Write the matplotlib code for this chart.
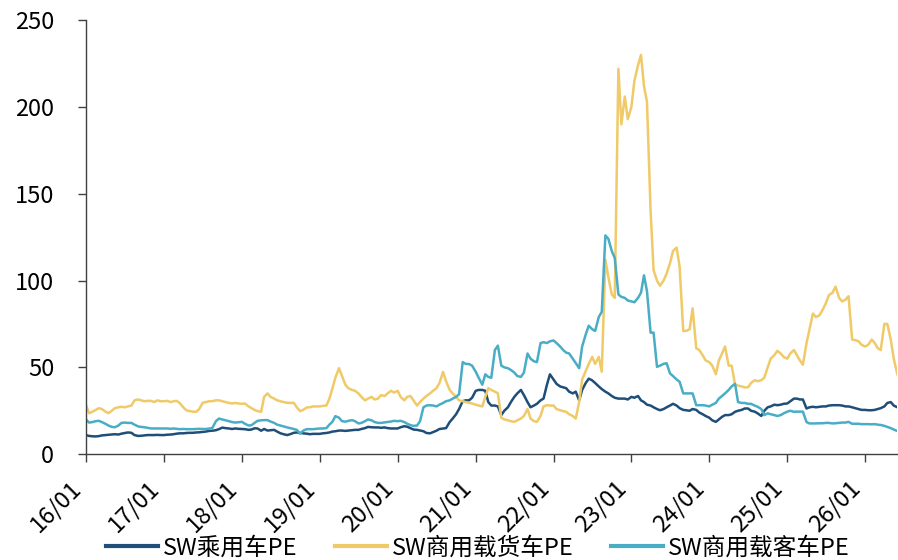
import numpy as np
import pandas as pd
import matplotlib
matplotlib.use("Agg")
import matplotlib.pyplot as plt
import matplotlib.dates as mdates

plt.rcParams['font.family'] = ['Noto Sans CJK SC', 'DejaVu Sans']

# semi-monthly readings (1st and 15th), 2016-01-01 .. 2026-06-01
dates = pd.date_range("2016-01-01", periods=251, freq="SMS")

car_pe = (
    [11, 10.5, 10.3, 10.2, 10.4, 10.8, 11, 11.2, 11.3, 11.5, 11.3, 11.8, 12.2, 12.5, 12.3, 11, 10.5, 10.6, 10.8, 11, 11, 11, 11.1, 11]
    + [11, 11.2, 11.3, 11.5, 11.8, 12, 12, 12.2, 12.3, 12.3, 12.5, 12.6, 12.8, 13, 13.4, 13.5, 13.8, 14.4, 15.3, 15, 14.8, 14.5, 14.8, 14.6]
    + [14.5, 14.4, 14, 14.2, 14.9, 14.8, 13.5, 14.5, 13.6, 13.8, 14, 13, 12, 11.5, 11, 11.5, 12.3, 12.5, 12.2, 12, 11.8, 11.5, 11.7, 11.7]
    + [11.7, 12, 12.2, 12.5, 13, 13.2, 13.6, 13.6, 13.4, 13.6, 13.8, 14, 14, 14.5, 15, 15.7, 15.5, 15.4, 15.4, 15.2, 15.4, 15, 14.8, 14.8]
    + [14.8, 15.5, 16.1, 15.8, 15, 14.2, 14, 13.6, 13.2, 12.2, 12, 12.7, 13.5, 14.5, 14.8, 15, 18.5, 20.5, 23, 26, 30.5, 31, 31, 32.5]
    + [36.5, 37, 37, 36.5, 30, 28, 28, 27.5, 22.5, 25, 27, 30, 33, 35, 37, 34, 30, 27, 28, 29, 31, 32, 40, 46]
    + [43, 40.5, 39, 38.5, 38, 36, 35, 36, 31, 37, 41, 43.5, 42.5, 41, 39, 37.5, 36, 35, 33.5, 32.5, 32, 32, 32, 31.5]
    + [33, 32.5, 33.5, 31, 30, 28.5, 28, 27, 26, 25.3, 26, 27, 28, 29, 28, 26.5, 25.5, 25.3, 25, 26, 25.5, 24, 23, 22]
    + [21, 19.5, 18.6, 20, 21.5, 22.5, 22.5, 23, 24.4, 25, 25.5, 26.3, 26.3, 25, 24.5, 23.5, 22, 25, 27, 27.5, 28.5, 28.2, 28.5, 29]
    + [29.2, 30.5, 32, 32, 31.5, 31.5, 26.3, 27, 27.3, 27, 27.3, 27.5, 27.5, 28, 28.2, 28.2, 28.2, 28, 27.5, 27.5, 27, 26.5, 26, 25.5]
    + [25.5, 25.3, 25.3, 25.5, 26, 26.5, 27.5, 29.5, 30, 28, 27]
)

truck_pe = (
    [28.2, 23.6, 24.5, 25.5, 26.5, 26, 24.5, 23.6, 25, 26.5, 27, 27.3, 27, 27.5, 28, 31, 31.5, 31, 30.5, 30.7, 30.7, 30, 31, 30.5]
    + [30.5, 30.7, 30, 30.5, 30.7, 29.5, 27, 25.3, 24.8, 24.5, 24.4, 26, 29.6, 30, 30.5, 30.5, 31, 31, 30.5, 30, 29.5, 29.2, 29.5, 29.2]
    + [29, 29.2, 27.5, 26.5, 25.5, 24.8, 24.4, 33, 35, 33, 32, 31, 30.5, 30, 29.6, 29.5, 29.6, 27, 24.8, 25.5, 26.9, 27, 27.5, 27.5]
    + [27.5, 27.8, 28, 32, 37.8, 44, 49.5, 45, 40, 38, 37, 36.5, 35, 33, 31, 32, 33, 31.5, 32, 34, 33.5, 35, 36.5, 35.5]
    + [36.5, 33, 31, 33, 33.5, 31, 28, 30, 32, 33.5, 35, 36.5, 38, 41, 47.4, 42, 37, 35, 33, 31, 30.5, 30, 29.5, 29.2]
    + [28.5, 28, 27.5, 33, 38, 37, 36, 35, 21, 20, 19.5, 19, 18.6, 19.5, 20.5, 22, 26, 20.5, 19, 18.6, 22, 27.5, 28.2, 28]
    + [28, 26, 25.3, 24.8, 24.4, 23, 22, 20.5, 30, 43, 48, 52, 56, 52, 56, 47.5, 112, 102, 92, 90, 222, 190, 206, 193]
    + [200, 215, 224, 230, 212, 203, 140, 106, 100, 97, 100, 104, 110, 117, 119, 108, 71, 71, 72, 84, 61, 60, 57, 54]
    + [53, 51, 46, 54, 58, 62, 51, 51, 40, 39.5, 39, 38.5, 38.5, 41, 42.6, 42, 42.6, 44, 50, 55, 57, 59.5, 58, 56]
    + [55, 58, 60, 57, 54, 51.5, 64, 72, 81, 79, 80, 83, 87, 91.6, 93, 96.5, 90, 88, 89, 91, 66, 65.7, 65, 63]
    + [62, 63, 66, 64, 61, 60, 75, 75, 66, 55, 46]
)

bus_pe = (
    [20, 18.2, 18.5, 19, 19.2, 18.5, 17.5, 16.5, 15.7, 15.5, 16.5, 18, 18.2, 18, 18, 17, 16, 15.7, 15.5, 15.2, 14.8, 14.8, 14.8, 14.8]
    + [14.8, 14.8, 14.6, 14.8, 14.6, 14.4, 14.5, 14.4, 14.4, 14.4, 14.5, 14.6, 14.5, 14.5, 14.8, 15, 19, 20.5, 20, 19.6, 19, 18.5, 18.2, 18.4]
    + [18.6, 17.5, 16.5, 16.7, 18, 19.2, 19.5, 19.6, 19.6, 18.8, 18, 17, 16.5, 16, 15.4, 15, 14.5, 14, 11.8, 13.5, 14.4, 14.4, 14.4, 14.6]
    + [14.8, 14.8, 15, 17, 18.6, 21.9, 21, 19, 18.7, 19.2, 19.6, 19, 17.7, 18, 19, 20, 19.5, 18.5, 18, 18, 18.3, 18.6, 18.8, 19.2]
    + [19, 19.2, 18.5, 17.5, 16.7, 16.3, 16.5, 19, 27, 28, 28.2, 28, 27.5, 28.5, 29.5, 30.5, 31, 32, 33, 34.5, 53, 52, 51.9, 51]
    + [47.5, 44, 40, 46, 44.5, 44, 60, 62.5, 51, 50, 49.5, 48.5, 47, 45, 44.5, 47, 58, 55, 53.5, 53, 64, 64.5, 64, 65]
    + [65.5, 64, 62, 60, 58.5, 58, 55, 52.5, 49.5, 62, 69, 74, 72, 71, 79, 82, 126, 124, 117, 113, 92, 90.6, 90, 88.5]
    + [88, 87.5, 90, 93, 103, 94, 70, 70, 50.3, 51, 52, 52.4, 46.5, 45, 43, 41.7, 35, 35, 35, 35, 28.2, 28.2, 28.2, 28]
    + [27.5, 28.5, 29.5, 32, 33.5, 35, 37, 39, 40.5, 30, 29.5, 29.5, 29, 29, 28, 27.3, 26, 22.5, 23.5, 23, 22.5, 22, 22.5, 23.5]
    + [24.5, 25, 24.4, 24.5, 24.5, 24.5, 18.5, 17.7, 17.7, 17.7, 17.8, 17.8, 18, 18, 17.7, 17.8, 18, 18.2, 18.2, 18.6, 17.5, 17.5, 17.5, 17.3]
    + [17.3, 17.3, 17.2, 17.3, 17, 16.8, 16.3, 15.7, 15, 14.2, 13.3]
)

labels = ["SW乘用车PE", "SW商用载货车PE", "SW商用载客车PE"]
colors = ["#1F4E79", "#F0CA68", "#4AADC6"]

fig = plt.figure(figsize=(8.98, 5.6), dpi=100)
ax = fig.add_axes([0.0958, 0.189, 0.9035, 0.775])

for vals, lab, c in zip([car_pe, truck_pe, bus_pe], labels, colors):
    ax.plot(dates, vals, color=c, lw=1.8, label=lab)

ax.set_ylim(0, 250)
ax.set_yticks([0, 50, 100, 150, 200, 250])
ax.set_xlim(dates[0], dates[-1])
ax.xaxis.set_major_locator(mdates.YearLocator())
ax.xaxis.set_major_formatter(mdates.DateFormatter("%y/%m"))

for side in ["top", "right"]:
    ax.spines[side].set_visible(False)
for side in ["left", "bottom"]:
    ax.spines[side].set_color("#404040")
    ax.spines[side].set_linewidth(1.0)

ax.tick_params(axis="y", direction="out", length=6, width=1, color="#404040",
               labelsize=17, pad=17)
ax.tick_params(axis="x", direction="out", length=6, width=1, color="#404040",
               labelsize=17, pad=10)
plt.setp(ax.get_xticklabels(), rotation=45, ha="right")

fig.legend(loc="center", bbox_to_anchor=(0.532, 0.0214), ncol=3, frameon=False,
           fontsize=17, handlelength=2.2, handletextpad=0.2, columnspacing=1.6,
           borderpad=0, borderaxespad=0)
for line in fig.legends[0].get_lines():
    line.set_linewidth(3)

fig.savefig("out.png", dpi=100)
